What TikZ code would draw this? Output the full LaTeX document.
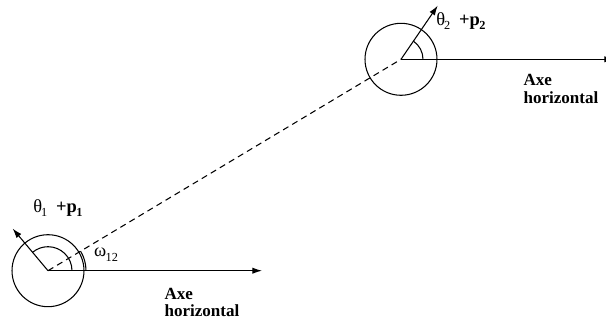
\documentclass[tikz,border=0pt]{standalone}
\usepackage{fontspec}
\setmainfont{Liberation Serif}
\usetikzlibrary{arrows.meta,calc}
\newcommand{\lowidx}[1]{\raisebox{-0.55ex}{\scriptsize #1}}

\begin{document}
\begin{tikzpicture}[x=0.02cm,y=0.02cm,line width=0.6pt,
  point/.style={draw,circle,minimum size=1.44cm,inner sep=0pt},
  axis/.style={-{Latex[length=5.5pt,width=3.6pt]}},
  lbl/.style={inner sep=0pt,font=\fontsize{10.5}{11}\selectfont},
  axelbl/.style={inner sep=0pt,align=left,anchor=west,font=\fontsize{9.7}{10}\selectfont\bfseries}]
\clip (0,0) rectangle (606,322);

\node[point] (p1) at (48,51.3) {};
\node[point] (p2) at (401,262.7) {};

% axes
\coordinate (h1) at (262,51.3);
\coordinate (h2) at (614,262.7);
\draw[axis] (p1.center) -- (h1);
\draw[axis] (p2.center) -- (h2);

% orientations
\coordinate (o1) at ($(p1.center)+(130:55)$);
\coordinate (o2) at ($(p2.center)+(55.6:65)$);
\draw[axis] (p1.center) -- (o1);
\draw[axis] (p2.center) -- (o2);
\draw ([shift=(0:24)]p1.center) arc (0:130:24);
\draw ([shift=(0:22)]p2.center) arc (0:55.6:22);

% link
\draw[dash pattern=on 3.5pt off 2.5pt] (p1.center) -- (p2.center);
\draw ([shift=(0:38)]p1.center) arc (0:31:38);

\node[lbl] (t1) at (58,114) {θ\kern-0.6pt\lowidx{1}\hspace{5pt}\textbf{+p}\kern-0.3pt\lowidx{\textbf{1}}};
\node[lbl] (t2) at (461,301) {θ\kern-0.6pt\lowidx{2}\hspace{5pt}\textbf{+p}\kern-0.3pt\lowidx{\textbf{2}}};
\node[lbl] (w12) at (106,67) {ω\kern-0.3pt\lowidx{12}};

\node[axelbl] (a1) at (164,19.5) {Axe\\horizontal};
\node[axelbl] (a2) at (523,233) {Axe\\horizontal};
\end{tikzpicture}
\end{document}
